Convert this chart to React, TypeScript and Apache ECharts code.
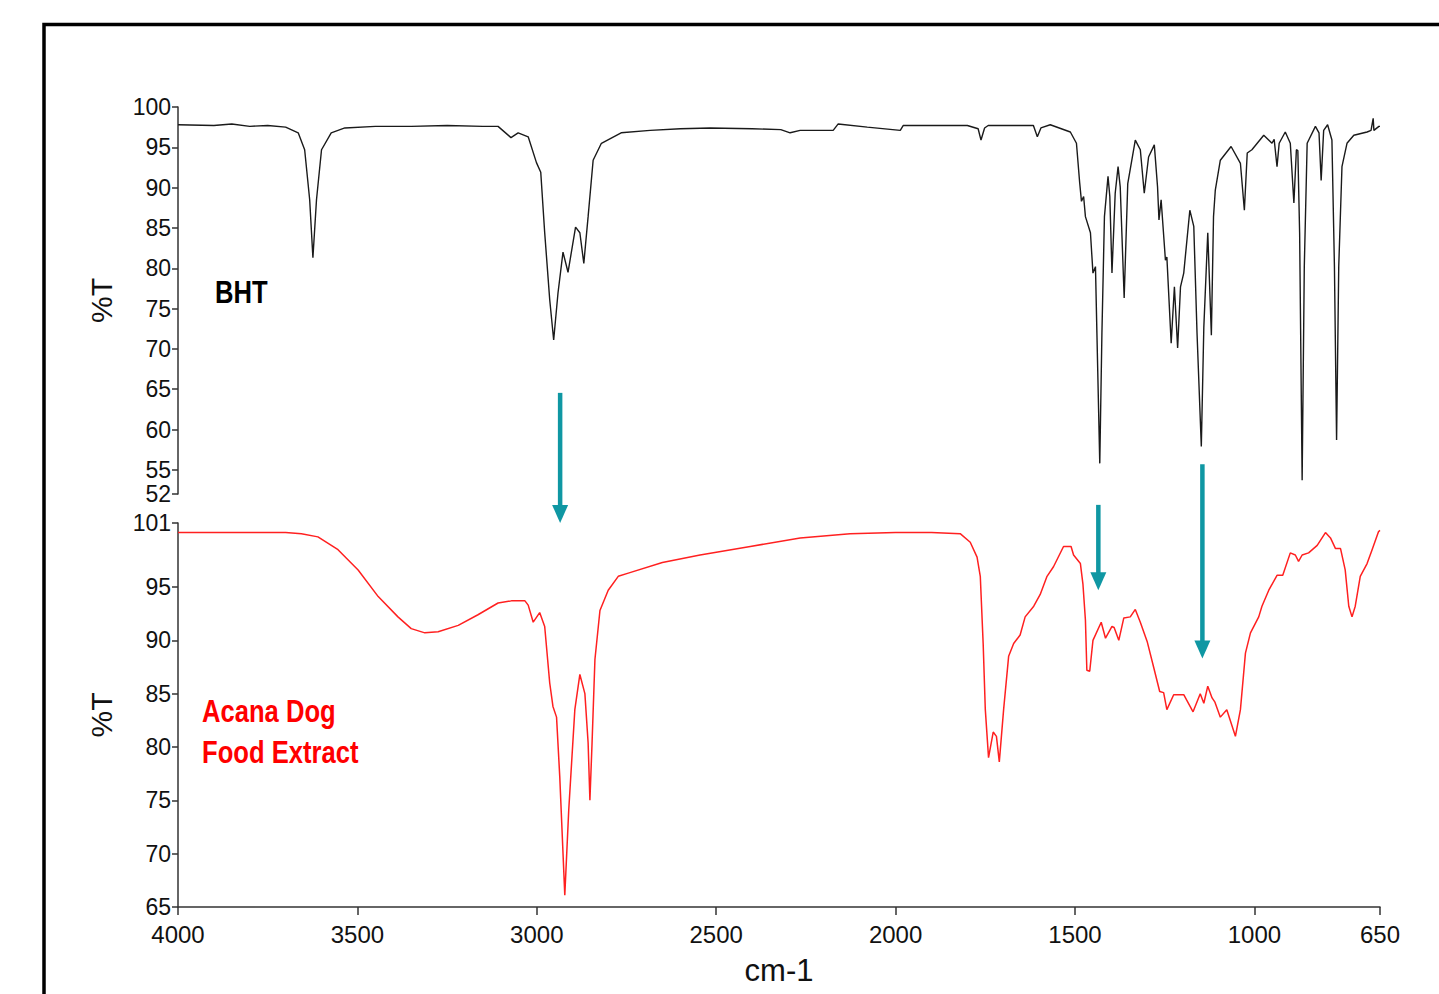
import React, { useEffect, useRef } from "react";
import * as echarts from "echarts";

// BHT spectrum (wavenumber cm-1, %T)
const bhtWn = [4000, 3900, 3850, 3800, 3750, 3700, 3665, 3647, 3633, 3624, 3614, 3600, 3573, 3535, 3450, 3350, 3250, 3150, 3108, 3072, 3052, 3024, 3001, 2989, 2978, 2964, 2953, 2941, 2927, 2913, 2892, 2880, 2869, 2857, 2843, 2820, 2765, 2684, 2600, 2517, 2400, 2320, 2294, 2266, 2174, 2160, 2079, 1987, 1979, 1884, 1800, 1770, 1762, 1752, 1742, 1616, 1605, 1595, 1569, 1513, 1496, 1487, 1482, 1476, 1471, 1457, 1450, 1443, 1439, 1431, 1425, 1418, 1408, 1403, 1397, 1388, 1380, 1374, 1363, 1353, 1332, 1318, 1307, 1295, 1279, 1270, 1266, 1260, 1248, 1244, 1232, 1223, 1214, 1206, 1197, 1180, 1169, 1160, 1148, 1141, 1130, 1120, 1114, 1109, 1095, 1065, 1039, 1028, 1020, 1007, 974, 951, 945, 937, 931, 914, 900, 890, 883, 879, 874, 867, 861, 853, 830, 820, 814, 807, 796, 784, 777, 771, 765, 756, 742, 723, 686, 675, 669, 667, 653, 650];
const bhtT = [97.8, 97.7, 97.9, 97.6, 97.7, 97.5, 96.8, 94.7, 88.5, 81.3, 88.5, 94.7, 96.8, 97.4, 97.6, 97.6, 97.7, 97.6, 97.6, 96.2, 96.8, 96.3, 93.1, 91.9, 84.4, 76.1, 71.1, 76.9, 82.0, 79.5, 85.1, 84.4, 80.6, 86.4, 93.4, 95.5, 96.8, 97.1, 97.3, 97.4, 97.3, 97.2, 96.8, 97.1, 97.1, 97.9, 97.5, 97.1, 97.7, 97.7, 97.7, 97.3, 95.9, 97.4, 97.7, 97.7, 96.3, 97.4, 97.8, 96.9, 95.5, 90.6, 88.3, 88.9, 86.4, 84.4, 79.4, 80.2, 72.0, 55.8, 72.0, 86.4, 91.4, 88.9, 79.4, 89.3, 92.6, 90.1, 76.3, 90.5, 95.9, 94.7, 89.3, 93.8, 95.3, 90.1, 86.0, 88.5, 81.0, 81.4, 70.7, 77.7, 70.1, 77.7, 79.4, 87.2, 85.2, 72.0, 57.9, 72.7, 84.4, 71.7, 86.4, 89.7, 93.4, 95.1, 93.0, 87.2, 94.3, 94.7, 96.5, 95.5, 96.0, 92.6, 95.5, 96.9, 95.5, 88.1, 94.7, 94.6, 84.4, 53.7, 80.2, 95.5, 97.6, 96.8, 90.9, 97.1, 97.8, 95.9, 80.2, 58.7, 80.2, 92.6, 95.5, 96.5, 96.9, 97.1, 98.6, 97.1, 97.6, 97.6];

// Acana Dog Food Extract spectrum
const acanaWn = [4000, 3900, 3800, 3700, 3656, 3610, 3554, 3498, 3442, 3387, 3350, 3312, 3275, 3219, 3164, 3108, 3071, 3033, 3024, 3010, 2992, 2978, 2964, 2955, 2945, 2936, 2922, 2911, 2894, 2880, 2866, 2857, 2852, 2846, 2838, 2824, 2801, 2773, 2745, 2650, 2545, 2405, 2266, 2127, 2000, 1900, 1820, 1792, 1773, 1764, 1756, 1750, 1741, 1728, 1719, 1711, 1699, 1685, 1671, 1653, 1639, 1615, 1597, 1578, 1560, 1532, 1511, 1504, 1485, 1478, 1471, 1467, 1459, 1450, 1427, 1415, 1397, 1391, 1378, 1364, 1346, 1332, 1318, 1299, 1281, 1264, 1253, 1244, 1225, 1197, 1171, 1151, 1141, 1130, 1118, 1110, 1095, 1077, 1053, 1039, 1025, 1011, 988, 979, 960, 937, 921, 900, 886, 877, 867, 849, 825, 802, 788, 774, 760, 747, 737, 728, 719, 705, 686, 672, 654, 650];
const acanaT = [100.1, 100.1, 100.1, 100.1, 100.0, 99.7, 98.5, 96.6, 94.1, 92.2, 91.1, 90.7, 90.8, 91.4, 92.4, 93.5, 93.7, 93.7, 93.3, 91.7, 92.6, 91.3, 86.0, 83.8, 82.8, 77.2, 66.1, 74.1, 83.5, 86.8, 85.0, 80.4, 75.0, 80.4, 88.2, 92.8, 94.7, 96.0, 96.3, 97.3, 98.0, 98.8, 99.6, 100.0, 100.1, 100.1, 100.0, 99.2, 97.8, 96.0, 89.7, 83.5, 79.0, 81.4, 81.0, 78.6, 83.5, 88.5, 89.7, 90.5, 92.2, 93.2, 94.3, 96.0, 96.9, 98.8, 98.8, 98.0, 97.2, 95.3, 91.9, 87.2, 87.1, 90.0, 91.7, 90.2, 91.3, 91.2, 90.0, 92.1, 92.2, 92.9, 91.7, 89.9, 87.5, 85.2, 85.1, 83.5, 84.9, 84.9, 83.3, 85.0, 84.1, 85.7, 84.6, 84.2, 82.8, 83.5, 81.0, 83.5, 88.8, 90.7, 92.2, 93.2, 94.7, 96.1, 96.1, 98.2, 98.0, 97.4, 98.0, 98.2, 98.9, 100.1, 99.6, 98.6, 98.6, 96.6, 93.2, 92.2, 93.2, 96.0, 97.2, 98.5, 100.2, 100.3];

const xTicks = [4000, 3500, 3000, 2500, 2000, 1500, 1000, 650];
const topYTicks = [52, 55, 60, 65, 70, 75, 80, 85, 90, 95, 100];
const bottomYTicks = [65, 70, 75, 80, 85, 90, 95, 101];

// annotation arrows, in the lower panel's coordinates: wavenumber, start %T, tip %T
const arrowWn = [2935, 1435, 1145];
const arrowFrom = [113.2, 102.7, 106.5];
const arrowTo = [101.0, 94.7, 88.3];

export default function App() {
  const ref = useRef<HTMLDivElement>(null);
  useEffect(() => {
    const chart = echarts.init(ref.current!, null, { renderer: "svg" });
    const REG = "'Liberation Sans', Arial, sans-serif";
    const axisColor = "#333";
    const plain = (v: number) => String(v);
    const zip = (a: number[], b: number[]) => a.map((x, i) => [x, b[i]]);
    const yAxis = (gridIndex: number, min: number, max: number, ticks: number[]) => ({
      type: "value",
      gridIndex,
      min,
      max,
      axisLine: { show: true, lineStyle: { color: axisColor, width: 1.5 } },
      axisTick: { show: true, length: 6, customValues: ticks, lineStyle: { color: axisColor, width: 1.5 } },
      axisLabel: {
        customValues: ticks,
        formatter: plain,
        fontFamily: REG,
        fontSize: 23,
        color: "#111",
        margin: 7,
        hideOverlap: false,
        showMinLabel: true,
        showMaxLabel: true,
      },
      splitLine: { show: false },
      name: "%T",
      nameLocation: "middle",
      nameRotate: 90,
      nameGap: 62,
      nameTextStyle: { fontFamily: REG, fontSize: 30, color: "#111" },
    });
    const option: any = {
      animation: false,
      backgroundColor: "#fff",
      grid: [
        { left: 178, top: 107, width: 1202, height: 387 },
        { left: 178, top: 523, width: 1202, height: 384 },
      ],
      xAxis: [
        { type: "value", gridIndex: 0, min: 650, max: 4000, inverse: true, show: false },
        {
          type: "value",
          gridIndex: 1,
          min: 650,
          max: 4000,
          inverse: true,
          axisLine: { show: true, lineStyle: { color: axisColor, width: 1.5 } },
          axisTick: { show: true, length: 8, customValues: xTicks, lineStyle: { color: axisColor, width: 1.5 } },
          axisLabel: {
            customValues: xTicks,
            formatter: plain,
            fontFamily: REG,
            fontSize: 24,
            color: "#111",
            margin: 15,
            showMinLabel: true,
            showMaxLabel: true,
          },
          splitLine: { show: false },
          name: "cm-1",
          nameLocation: "middle",
          nameGap: 48,
          nameTextStyle: { fontFamily: REG, fontSize: 31, color: "#111" },
        },
      ],
      yAxis: [yAxis(0, 52, 100, topYTicks), yAxis(1, 65, 101, bottomYTicks)],
      series: [
        {
          type: "line",
          xAxisIndex: 0,
          yAxisIndex: 0,
          data: zip(bhtWn, bhtT),
          showSymbol: false,
          lineStyle: { color: "#1a1a1a", width: 1.4 },
        },
        {
          type: "line",
          xAxisIndex: 1,
          yAxisIndex: 1,
          data: zip(acanaWn, acanaT),
          showSymbol: false,
          lineStyle: { color: "#ff2020", width: 1.5 },
        },
      ],
    };
    chart.setOption(option);

    const label = (text: string, x: number, y: number, fill: string) => ({
      type: "text",
      x,
      y,
      scaleX: 0.8,
      style: { text, font: `bold 32px ${REG}`, fill, verticalAlign: "middle" },
    });
    const graphics: any[] = [
      {
        type: "rect",
        shape: { x: 44, y: 24.5, width: 1500, height: 1100 },
        style: { fill: "none", stroke: "#000", lineWidth: 3.5 },
        silent: true,
      },
      label("BHT", 215, 292, "#000"),
      label("Acana Dog", 202, 711, "#ff0000"),
      label("Food Extract", 202, 752, "#ff0000"),
    ];
    const teal = "#0f97a3";
    arrowWn.forEach((wn, i) => {
      const p0 = chart.convertToPixel({ xAxisIndex: 1, yAxisIndex: 1 }, [wn, arrowFrom[i]]) as number[];
      const p1 = chart.convertToPixel({ xAxisIndex: 1, yAxisIndex: 1 }, [wn, arrowTo[i]]) as number[];
      const head = 18;
      graphics.push({
        type: "line",
        shape: { x1: p0[0], y1: p0[1], x2: p1[0], y2: p1[1] - head + 2 },
        style: { stroke: teal, lineWidth: 4.5 },
        silent: true,
      });
      graphics.push({
        type: "polygon",
        shape: { points: [[p1[0] - 8, p1[1] - head], [p1[0] + 8, p1[1] - head], [p1[0], p1[1]]] },
        style: { fill: teal },
        silent: true,
      });
    });
    chart.setOption({ graphic: graphics });

    return () => chart.dispose();
  }, []);
  return <div ref={ref} style={{ position: "fixed", left: 0, top: 0, width: 1439, height: 994 }} />;
}
